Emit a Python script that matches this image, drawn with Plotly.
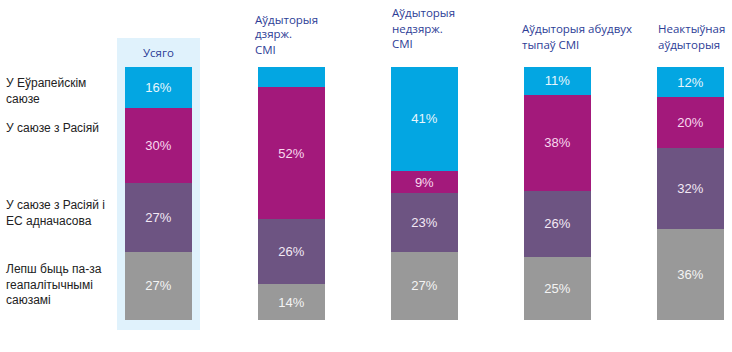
import plotly.graph_objects as go

categories = ["Усяго", "Аўдыторыя<br>дзярж.<br>СМІ", "Аўдыторыя<br>недзярж.<br>СМІ",
              "Аўдыторыя абудвух<br>тыпаў СМІ", "Неактыўная<br>аўдыторыя"]
series_names = ["Лепш быць па-за<br>геапалітычнымі<br>саюзамі",
                "У саюзе з Расіяй і<br>ЕС адначасова",
                "У саюзе з Расіяй",
                "У Еўрапейскім<br>саюзе"]
outside = [27, 14, 27, 25, 36]
both_unions = [27, 26, 23, 26, 32]
russia = [30, 52, 9, 38, 20]
eu = [16, 8, 41, 11, 12]
series_values = [outside, both_unions, russia, eu]
colors = ["#999999", "#6d5482", "#a3197b", "#03a6e2"]
text_colors = ["#f4f4f4", "#f3e9f5", "#f9d9ef", "#e8f6fd"]

# pixel -> data helpers (plot area spans full width; y range [-4, 111.5] over 292 px)
PX_PER_CAT = 133.0
X0_PX = 158.5
def xd(px):
    return (px - X0_PX) / PX_PER_CAT
Y_TOP, Y_BOT = 38, 330
YMIN, YMAX = -4, 111.5
def yp(py):
    return (Y_BOT - py) / (Y_BOT - Y_TOP)

xs = list(range(len(categories)))
fig = go.Figure()
for name, vals, col, tcol in zip(series_names, series_values, colors, text_colors):
    fig.add_trace(go.Bar(
        x=xs, y=vals, name=name, marker=dict(color=col, line=dict(width=0)),
        width=0.505,
        text=[f"{v}%" if v >= 9 else "" for v in vals],
        textposition="inside", insidetextanchor="middle",
        textfont=dict(family="Liberation Sans, Arial", size=13, color=tcol),
        constraintext="none", hoverinfo="skip",
    ))

fig.add_shape(type="rect", xref="x", yref="y", x0=xd(117), x1=xd(200),
              y0=YMIN, y1=YMAX, fillcolor="#e0f2fc", line=dict(width=0), layer="below")

title_font = dict(family="Open Sans", size=11.5, color="#2d3d96")
# column titles
fig.add_annotation(x=0, y=yp(53), yref="paper", text=categories[0], showarrow=False,
                   xanchor="center", yanchor="middle", font=title_font)
title_pos = [(253, 19, 15), (390, 13, 15.5), (520, 29, 16), (656, 29, 16)]
for i, (px, py, step) in enumerate(title_pos, start=1):
    for k, line in enumerate(categories[i].split("<br>")):
        fig.add_annotation(x=xd(px), y=yp(py + k * step), yref="paper", text=line,
                           showarrow=False, xanchor="left", yanchor="middle",
                           align="left", font=title_font)

# row labels
label_font = dict(family="Liberation Sans, Arial", size=12, color="#222222")
label_py = [284, 213, 128, 91]
for name, py in zip(series_names, label_py):
    fig.add_annotation(x=xd(4), y=yp(py), yref="paper", text=name, showarrow=False,
                       xanchor="left", yanchor="middle", align="left", font=label_font)

fig.update_layout(
    barmode="stack", width=732, height=352, showlegend=False,
    margin=dict(l=0, r=0, t=Y_TOP, b=352 - Y_BOT, pad=0),
    paper_bgcolor="white", plot_bgcolor="white",
    xaxis=dict(range=[xd(0), xd(732)], visible=False, fixedrange=True),
    yaxis=dict(range=[YMIN, YMAX], visible=False, fixedrange=True),
)
fig.write_html("out.html")
